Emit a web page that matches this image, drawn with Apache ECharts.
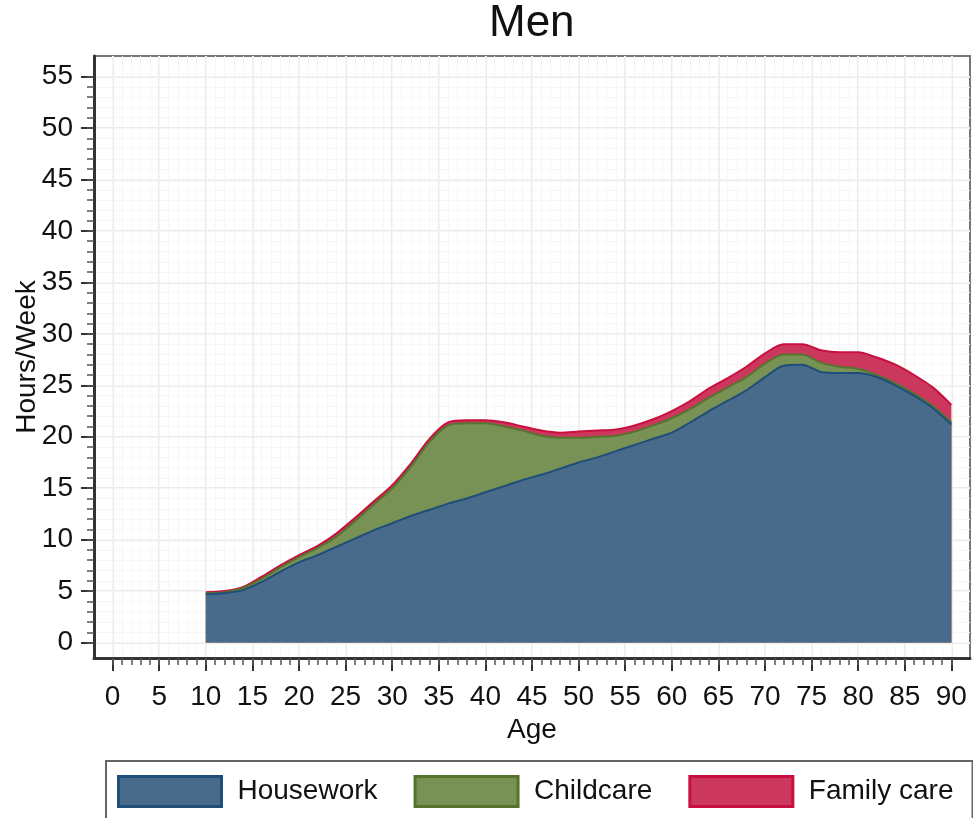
<!DOCTYPE html>
<html>
<head>
<meta charset="utf-8">
<title>Men</title>
<script src="https://cdn.jsdelivr.net/npm/echarts@6/dist/echarts.min.js"></script>
<style>
  html, body { margin: 0; padding: 0; background: #fff; }
  #chart { width: 973px; height: 818px; }
</style>
</head>
<body>
<div id="chart"></div>
<script>
// values, hours per week by age
const ages = [10, 12, 14, 16, 18, 20, 22, 24, 26, 28, 30, 32, 34, 36, 38, 40, 42, 44, 46, 48,
  50, 52, 54, 56, 58, 60, 62, 64, 66, 68, 70, 72, 74, 76, 78, 80, 82, 84, 86, 88, 90];
const housework = [4.7, 4.8, 5.1, 5.9, 6.9, 7.8, 8.5, 9.3, 10.1, 10.9, 11.6, 12.3, 12.9, 13.5, 14.0, 14.6, 15.2, 15.8, 16.3, 16.9,
  17.5, 18.0, 18.6, 19.2, 19.8, 20.4, 21.4, 22.5, 23.5, 24.5, 25.8, 26.9, 27.0, 26.3, 26.2, 26.2, 25.8, 25.0, 24.0, 22.8, 21.2];
const childcare = [0.1, 0.1, 0.2, 0.3, 0.4, 0.5, 0.7, 1.0, 1.7, 2.5, 3.4, 4.8, 6.6, 7.6, 7.3, 6.7, 5.8, 4.8, 3.8, 3.0,
  2.4, 2.0, 1.5, 1.3, 1.3, 1.4, 1.3, 1.3, 1.3, 1.3, 1.3, 1.1, 1.0, 0.9, 0.6, 0.4, 0.2, 0.2, 0.2, 0.2, 0.2];
const familyCare = [0.1, 0.1, 0.1, 0.2, 0.2, 0.2, 0.2, 0.3, 0.3, 0.3, 0.3, 0.3, 0.3, 0.3, 0.3, 0.3, 0.4, 0.4, 0.5, 0.5,
  0.6, 0.6, 0.6, 0.6, 0.6, 0.7, 0.8, 0.9, 0.9, 1.0, 1.0, 1.0, 1.0, 1.2, 1.4, 1.6, 1.7, 1.8, 1.8, 1.8, 1.7];

const xTicks = [0, 5, 10, 15, 20, 25, 30, 35, 40, 45, 50, 55, 60, 65, 70, 75, 80, 85, 90];
const yTicks = [0, 5, 10, 15, 20, 25, 30, 35, 40, 45, 50, 55];

const xMinor = [];
for (let i = 0; i <= 90; i++) xMinor.push(i);
const yMinor = [];
for (let i = 0; i <= 55; i++) yMinor.push(i);

const font = "'Liberation Sans', Arial, sans-serif";
const colors = {
  housework: {fill: '#486a8b', edge: '#1f4e79'},
  childcare: {fill: '#789155', edge: '#55752f'},
  family: {fill: '#cc385d', edge: '#c8103e'}
};

// stacked tops: each band is drawn as a full area from zero, larger ones underneath
const topHouse = housework.slice();
const topChild = housework.map((v, i) => v + childcare[i]);
const topFamily = topChild.map((v, i) => v + familyCare[i]);

const pairs = vals => ages.map((a, i) => [a, +vals[i].toFixed(2)]);

function areaSeries(name, vals, c) {
  return {
    name: name,
    type: 'line',
    smooth: 0.3,
    showSymbol: false,
    xAxisIndex: 0,
    yAxisIndex: 0,
    lineStyle: {color: c.edge, width: 2},
    itemStyle: {color: c.fill},
    areaStyle: {color: c.fill, opacity: 1, origin: 0},
    data: pairs(vals)
  };
}

const chart = echarts.init(document.getElementById('chart'));

chart.setOption({
  animation: false,
  backgroundColor: '#fff',
  textStyle: {fontFamily: font},
  title: {
    text: 'Men',
    left: 489,
    top: 2,
    padding: 0,
    textStyle: {fontFamily: font, fontSize: 44, fontWeight: 'normal', color: '#111'}
  },
  grid: {
    left: 94, right: 3, top: 56, bottom: 160,
    outerBoundsMode: 'none',
    containLabel: false,
    show: true, backgroundColor: '#fff', borderColor: '#777', borderWidth: 2
  },
  legend: {
    left: 106,
    top: 761,
    padding: [14, 19, 11, 11],
    borderColor: '#666',
    borderWidth: 2,
    itemWidth: 103,
    itemHeight: 30,
    itemGap: 36,
    icon: 'rect',
    textStyle: {fontFamily: font, fontSize: 28, color: '#111', padding: [0, 0, 0, 11]},
    data: [
      {name: 'Housework', itemStyle: {color: colors.housework.fill, borderColor: colors.housework.edge, borderWidth: 3}},
      {name: 'Childcare', itemStyle: {color: colors.childcare.fill, borderColor: colors.childcare.edge, borderWidth: 3}},
      {name: 'Family care', itemStyle: {color: colors.family.fill, borderColor: colors.family.edge, borderWidth: 3}}
    ]
  },
  xAxis: [
    {
      type: 'value', min: -2, max: 92,
      name: 'Age', nameLocation: 'middle', nameGap: 58,
      nameTextStyle: {fontFamily: font, fontSize: 28, color: '#111'},
      axisLine: {onZero: false, lineStyle: {color: '#333', width: 3}},
      axisTick: {customValues: xTicks, length: 13, lineStyle: {color: '#333', width: 2}},
      axisLabel: {customValues: xTicks, margin: 25, fontFamily: font, fontSize: 28, color: '#111'},
      splitLine: {show: true, lineStyle: {color: '#ebebeb', width: 2}}
    },
    {
      type: 'value', min: -2, max: 92, position: 'bottom',
      axisLine: {show: false, onZero: false},
      axisTick: {customValues: xMinor, length: 7, lineStyle: {color: '#555', width: 1.5}},
      axisLabel: {show: false},
      splitLine: {show: true, lineStyle: {color: '#f6f6f6', width: 1}}
    }
  ],
  yAxis: [
    {
      type: 'value', min: -1.5, max: 57,
      name: 'Hours/Week', nameLocation: 'middle', nameGap: 53, nameRotate: 90,
      nameMoveOverlap: false,
      nameTextStyle: {fontFamily: font, fontSize: 28, color: '#111'},
      axisLine: {show: true, onZero: false, lineStyle: {color: '#333', width: 3}},
      axisTick: {show: true, customValues: yTicks, length: 13, lineStyle: {color: '#333', width: 2}},
      axisLabel: {customValues: yTicks, margin: 21, fontFamily: font, fontSize: 28, color: '#111'},
      splitLine: {show: true, lineStyle: {color: '#ebebeb', width: 2}}
    },
    {
      type: 'value', min: -1.5, max: 57, position: 'left',
      axisLine: {show: false, onZero: false},
      axisTick: {show: true, customValues: yMinor, length: 7, lineStyle: {color: '#555', width: 1.5}},
      axisLabel: {show: false},
      splitLine: {show: true, lineStyle: {color: '#f6f6f6', width: 1}}
    }
  ],
  series: [
    areaSeries('Family care', topFamily, colors.family),
    areaSeries('Childcare', topChild, colors.childcare),
    areaSeries('Housework', topHouse, colors.housework)
  ]
});
</script>
</body>
</html>
